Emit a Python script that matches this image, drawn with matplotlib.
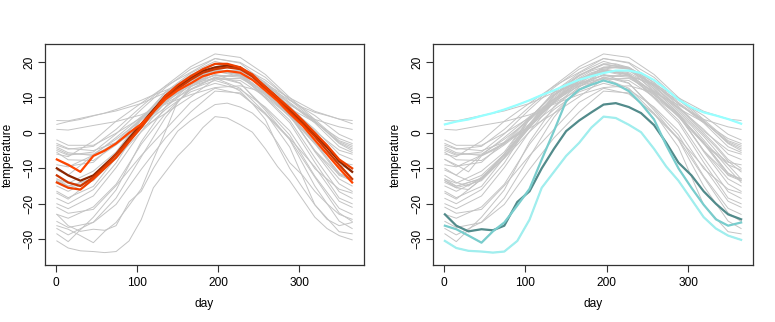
"""
Daily temperature curves for Canadian weather stations, two panels:
left highlights four Quebec-area stations, right highlights four
west-coast / arctic stations.
"""

import matplotlib

matplotlib.use("Agg")
import matplotlib.pyplot as plt

plt.rcParams["font.family"] = ["Liberation Sans", "DejaVu Sans"]

# sample days for the background curves (day 1, mid-months, day 365)
days_gray = [1, 15, 46, 74, 105, 135, 166, 196, 227, 258, 288, 319, 349, 365]

# background stations, temperature at days_gray
stations = {
    "St. Johns": [-3.0, -4.4, -5.0, -2.7, 1.3, 5.5, 10.2, 15.2, 15.4, 11.8, 6.9, 3.0, -1.6, -3.0],
    "Halifax": [-4.5, -6.0, -6.0, -1.8, 3.6, 9.4, 14.6, 18.4, 18.5, 14.3, 8.6, 3.3, -2.8, -4.5],
    "Sydney": [-4.0, -5.6, -6.4, -2.8, 2.0, 7.2, 13.0, 17.4, 17.5, 13.6, 8.2, 3.1, -2.5, -4.0],
    "Yarmouth": [-2.0, -3.5, -3.5, -0.1, 4.3, 8.4, 12.2, 15.7, 16.3, 13.4, 9.2, 4.9, -0.4, -2.0],
    "Charlottetown": [-5.5, -7.6, -7.8, -3.4, 2.1, 8.5, 14.2, 18.6, 18.1, 13.8, 8.3, 2.8, -3.9, -5.5],
    "Fredericton": [-7.5, -9.4, -8.3, -2.6, 4.3, 10.8, 16.2, 19.3, 18.3, 13.4, 7.1, 1.0, -6.0, -7.5],
    "Scheffervll": [-21.0, -22.7, -21.6, -14.9, -6.4, 1.0, 8.6, 12.6, 11.0, 5.5, -1.5, -9.6, -19.3, -21.0],
    "Arvida": [-13.0, -15.0, -13.0, -6.5, 1.8, 9.5, 15.3, 18.1, 16.7, 11.4, 5.0, -2.5, -11.5, -13.0],
    "Bagottville": [-13.5, -15.5, -13.5, -7.0, 1.4, 9.0, 14.8, 17.8, 16.5, 11.0, 4.5, -3.0, -12.0, -13.5],
    "Toronto": [-3.5, -4.6, -3.8, 1.0, 7.4, 13.3, 18.7, 22.3, 21.3, 16.5, 10.0, 3.8, -2.2, -3.5],
    "London": [-5.0, -6.3, -5.4, -0.3, 6.6, 12.8, 18.0, 21.0, 19.9, 15.7, 9.4, 3.4, -3.0, -5.0],
    "Thunder Bay": [-13.5, -15.1, -12.8, -6.0, 2.2, 8.8, 13.4, 17.6, 16.5, 11.3, 5.2, -2.9, -11.3, -13.5],
    "Winnipeg": [-16.5, -18.3, -15.1, -7.0, 3.8, 11.6, 16.9, 20.2, 18.3, 12.4, 5.3, -5.3, -14.4, -16.5],
    "The Pas": [-20.0, -21.4, -17.8, -9.8, 0.4, 8.7, 14.9, 17.7, 16.4, 9.8, 2.9, -8.3, -18.4, -20.0],
    "Churchill": [-25.0, -26.7, -25.3, -20.2, -10.3, -1.4, 5.9, 11.8, 11.3, 5.2, -1.8, -12.5, -22.6, -25.0],
    "Regina": [-15.0, -16.5, -12.9, -6.0, 4.1, 11.4, 16.4, 19.5, 18.1, 11.6, 4.8, -5.0, -13.0, -15.0],
    "Pr. Albert": [-18.5, -20.0, -16.0, -8.5, 2.6, 10.5, 15.2, 17.6, 16.4, 10.1, 3.6, -7.0, -16.6, -18.5],
    "Uranium City": [-23.0, -24.1, -20.9, -14.5, -3.2, 5.5, 12.4, 15.8, 14.0, 6.9, -0.6, -12.2, -21.3, -23.0],
    "Edmonton": [-13.0, -14.2, -10.8, -5.4, 4.1, 10.9, 14.9, 17.4, 16.0, 10.7, 5.1, -5.0, -11.8, -13.0],
    "Calgary": [-9.0, -9.6, -6.3, -3.2, 4.0, 9.5, 13.8, 16.4, 15.7, 10.7, 5.4, -3.0, -8.3, -9.0],
    "Kamloops": [-6.0, -6.7, -2.3, 3.3, 8.4, 13.2, 17.1, 21.0, 19.7, 14.0, 7.5, 0.5, -4.9, -6.0],
    "Victoria": [3.5, 3.4, 4.9, 6.2, 8.3, 11.4, 14.1, 16.2, 16.1, 13.8, 9.9, 6.1, 3.9, 3.5],
    "Pr. George": [-10.5, -11.9, -6.3, -1.3, 4.6, 9.5, 13.2, 15.3, 14.8, 10.2, 4.8, -3.1, -9.0, -10.5],
    "Pr. Rupert": [1.0, 0.8, 2.1, 3.2, 5.1, 8.1, 10.8, 12.8, 13.3, 11.4, 7.9, 3.8, 1.7, 1.0],
    "Whitehorse": [-17.0, -18.7, -13.1, -7.2, 0.3, 6.6, 11.6, 14.0, 12.3, 7.3, 0.6, -10.1, -15.9, -17.0],
    "Dawson": [-28.5, -30.7, -23.8, -16.1, -2.5, 7.4, 13.8, 15.5, 12.6, 5.6, -4.0, -20.3, -27.9, -28.5],
    "Yellowknife": [-27.0, -28.8, -25.2, -18.4, -6.8, 4.4, 13.0, 16.5, 14.1, 6.4, -1.9, -15.0, -24.9, -27.0],
}

# sample days for the highlighted curves
days_hi = [1, 15, 30, 46, 60, 74, 90, 105, 120, 135, 150, 166, 181,
           196, 211, 227, 242, 258, 273, 288, 304, 319, 334, 349, 365]

# left panel highlights
red_dark = [-10, -12, -13.5, -12, -9, -6, -1.5, 2.5, 6.5, 10.5, 13, 15.5, 17.5,
            18.5, 19, 18.5, 16, 13, 10, 6.5, 3, -0.5, -4, -8, -11]
red_mid = [-12, -14, -15, -12.5, -9.5, -6, -2, 2, 6, 10, 12.5, 15, 17,
           18, 18.5, 18, 16, 12.5, 9.5, 6, 2.5, -1, -5, -9, -13]
red_bright = [-7.5, -9, -11, -6.5, -5, -3, 0, 2.5, 6, 9.5, 12, 14, 16,
              17, 17.5, 17, 15, 12, 9, 5.5, 2, -2, -6, -10, -14]
red_light = [-14, -15.5, -16, -13, -10, -7, -2.5, 1.5, 6, 10.5, 13.5, 16, 18,
             19.5, 19.5, 18.5, 16.5, 13, 10, 7, 3.5, 0, -3.5, -7.5, -10]

# right panel highlights
cyan_coast = [2.4, 3.2, 3.8, 4.8, 5.6, 6.6, 7.9, 9.2, 10.7, 12.0, 13.5, 15.0, 16.0,
              16.9, 17.6, 17.6, 16.9, 14.9, 12.3, 9.4, 7.2, 5.8, 4.9, 3.9, 2.6]
teal_dark = [-23, -26.2, -27.8, -27.2, -27.5, -26.2, -19.5, -16.5, -10, -4.5, 0.5, 3.5, 5.8,
             8.0, 8.4, 7.3, 5.6, 2.2, -2.8, -8.4, -12.0, -16.5, -20.0, -23.0, -24.4]
teal_mid = [-26.2, -27.2, -29, -31, -27.8, -25.3, -20.5, -15.8, -7.5, 0.5, 9.0, 12.2, 13.6,
            14.8, 13.8, 11.8, 8.3, 3.8, -3.5, -10.0, -15.5, -20.3, -24.4, -26.2, -25.3]
cyan_arctic = [-30.5, -32.5, -33.3, -33.5, -33.8, -33.5, -30.5, -24.5, -15.5, -11.0, -6.5, -2.8, 1.5,
               4.6, 4.2, 2.3, 0.2, -4.5, -9.5, -13.5, -18.8, -23.8, -27.0, -29.0, -30.2]

left_hi = [(red_dark, "#8B2500"), (red_mid, "#CD3700"),
           (red_bright, "#FF4500"), (red_light, "#EE4000")]
right_hi = [(cyan_coast, "#97FFFF"), (teal_dark, "#528B8B"),
            (teal_mid, "#79CDCD"), (cyan_arctic, "#A0EEEE")]

GRAY = "#C4C4C4"


def draw_panel(ax, highlights):
    # every station in gray first, highlighted ones included
    for temps in stations.values():
        ax.plot(days_gray, temps, color=GRAY, lw=0.7)
    for temps, _ in left_hi + right_hi:
        ax.plot(days_hi, temps, color=GRAY, lw=0.7)
    for temps, col in highlights:
        ax.plot(days_hi, temps, color=col, lw=1.6)
    ax.set_xlim(-13.6, 379.6)
    ax.set_ylim(-37.3, 25.1)
    ax.set_xticks([0, 100, 200, 300])
    ax.set_yticks([-30, -20, -10, 0, 10, 20])
    ax.tick_params(axis="both", length=5, width=0.8, color="#333333",
                   labelsize=8.6, direction="out")
    ax.tick_params(axis="x", pad=3.5)
    ax.tick_params(axis="y", pad=2)
    for lab in ax.get_yticklabels():
        lab.set_rotation(90)
        lab.set_va("center")
    for sp in ax.spines.values():
        sp.set_color("#333333")
        sp.set_linewidth(0.9)


fig = plt.figure(figsize=(7.75, 3.22), dpi=100)
W, H = 775, 322
boxes = [(45, 364), (433, 753)]
top, bottom = 44, 265
for (x0, x1), hi in zip(boxes, [left_hi, right_hi]):
    ax = fig.add_axes([x0 / W, (H - bottom) / H, (x1 - x0) / W, (bottom - top) / H])
    draw_panel(ax, hi)
    fig.text((x0 + x1) / 2 / W, 1 - 304 / H, "day", ha="center", va="center", fontsize=8.6)
    fig.text((x0 - 37) / W, 1 - 155 / H, "temperature", ha="center", va="center",
             rotation=90, fontsize=8.6)

fig.savefig("out.png", dpi=100)
